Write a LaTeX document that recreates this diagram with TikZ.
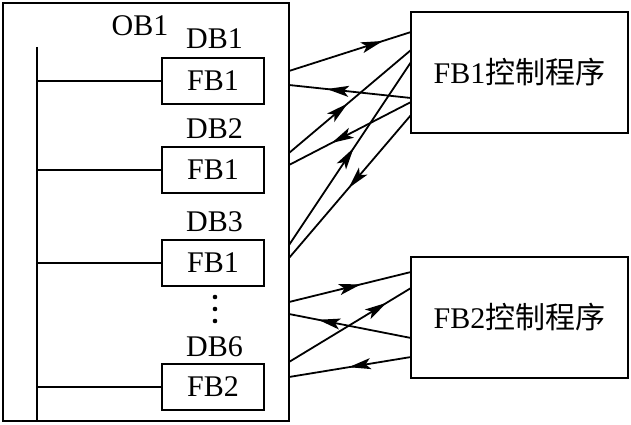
\documentclass[tikz,border=0pt]{standalone}
\usepackage{fontspec}
\setmainfont{Liberation Serif}
\newfontfamily\cjk{Noto Sans CJK SC}
\usetikzlibrary{arrows.meta,decorations.markings}
\begin{document}
\begin{tikzpicture}[x=1pt,y=-1pt,
  box/.style={draw, line width=2.6pt, inner sep=0pt, outer sep=0pt},
  ln/.style={line width=1.8pt},
  txt/.style={font=\fontsize{30}{32}\selectfont, inner sep=0pt},
  midarrow/.style={ln, postaction={decorate}, decoration={markings, mark=at position #1 with {\arrow{Stealth[length=22pt,width=11pt,inset=5pt]}}}}]
\useasboundingbox (0,0) rectangle (631,425);
% outer OB1 box
\node[box, minimum width=286pt, minimum height=418pt] (ob) at (146,212) {};
\node[txt] (obl) at (140,26) {OB1};
% bus
\coordinate (bt) at (37,47);
\coordinate (bb) at (37,420);
\draw[ln] (bt) -- (bb);
% FB boxes
\node[box, txt, minimum width=102pt, minimum height=46pt] (f1) at (213,81) {FB1};
\node[box, txt, minimum width=102pt, minimum height=46pt] (f2) at (213,170) {FB1};
\node[box, txt, minimum width=102pt, minimum height=46pt] (f3) at (213,263) {FB1};
\node[box, txt, minimum width=102pt, minimum height=46pt] (f4) at (213,387) {FB2};
\node[txt] (d1) at (214.5,39) {DB1};
\node[txt] (d2) at (214.5,129) {DB2};
\node[txt] (d3) at (214.5,222) {DB3};
\node[txt] (d6) at (214.5,347) {DB6};
\foreach \n in {f1,f2,f3,f4} \draw[ln] (\n.west -| bt) -- (\n.west);
% dots
\fill (215,297) circle (2.3pt);
\fill (215,309) circle (2.3pt);
\fill (215,321) circle (2.3pt);
% control boxes
\node[box, txt, minimum width=217pt, minimum height=121pt] (c1) at (519.5,72.5) {FB1{\cjk 控制程序}};
\node[box, txt, minimum width=217pt, minimum height=121pt] (c2) at (519.5,317.5) {FB2{\cjk 控制程序}};
% endpoints
\coordinate (o1) at (ob.east |- 0,71);
\coordinate (o2) at (ob.east |- 0,85);
\coordinate (o3) at (ob.east |- 0,153);
\coordinate (o4) at (ob.east |- 0,165);
\coordinate (o5) at (ob.east |- 0,245);
\coordinate (o6) at (ob.east |- 0,258);
\coordinate (o7) at (ob.east |- 0,302);
\coordinate (o8) at (ob.east |- 0,314);
\coordinate (o9) at (ob.east |- 0,362);
\coordinate (o10) at (ob.east |- 0,377);
\coordinate (p1) at (c1.west |- 0,32);
\coordinate (p2) at (c1.west |- 0,98);
\coordinate (p3) at (c1.west |- 0,50);
\coordinate (p4) at (c1.west |- 0,102);
\coordinate (p5) at (c1.west |- 0,62);
\coordinate (p6) at (c1.west |- 0,115);
\coordinate (p7) at (c2.west |- 0,272);
\coordinate (p8) at (c2.west |- 0,338);
\coordinate (p9) at (c2.west |- 0,288);
\coordinate (p10) at (c2.west |- 0,357);
% connectors
\draw[midarrow=0.77] (o1) -- (p1);
\draw[midarrow=0.69] (p2) -- (o2);
\draw[midarrow=0.48] (o3) -- (p3);
\draw[midarrow=0.65] (p4) -- (o4);
\draw[midarrow=0.53] (o5) -- (p5);
\draw[midarrow=0.51] (p6) -- (o6);
\draw[midarrow=0.59] (o7) -- (p7);
\draw[midarrow=0.76] (p8) -- (o8);
\draw[midarrow=0.80] (o9) -- (p9);
\draw[midarrow=0.51] (p10) -- (o10);
\end{tikzpicture}
\end{document}
